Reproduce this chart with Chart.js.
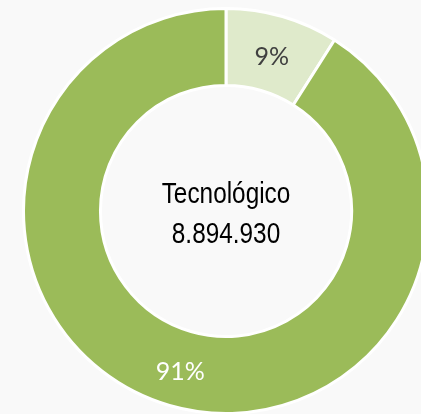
<!DOCTYPE html>
<html lang="es">
<head>
    <meta charset="UTF-8">
    <title>Tecnológico</title>
    <script src="https://cdn.jsdelivr.net/npm/chart.js"></script>
    <style>
        html, body { margin: 0; padding: 0; width: 421px; height: 414px; overflow: hidden; background: #f9f9f9; }
        #wrap { position: absolute; left: 22px; top: 7px; width: 408px; height: 408px; }
    </style>
</head>
<body>
    <div id="wrap">
        <canvas id="techChart"></canvas>
    </div>

    <script>
        // data
        const labels = ['Otro', 'Tecnológico'];
        const shares = [9, 91];
        const colors = ['#dfeacb', '#9bbb59'];
        const labelColors = ['#404040', '#ffffff'];
        const centerTitle = 'Tecnológico';
        const centerValue = '8.894.930';

        // percentage labels placed at each arc's middle
        const pctLabels = {
            id: 'pctLabels',
            afterDatasetsDraw(chart) {
                const ctx = chart.ctx;
                const meta = chart.getDatasetMeta(0);
                ctx.save();
                ctx.font = '25px Lato, "Open Sans", sans-serif';
                ctx.textAlign = 'center';
                ctx.textBaseline = 'middle';
                meta.data.forEach((arc, i) => {
                    const pos = arc.tooltipPosition();
                    ctx.fillStyle = labelColors[i];
                    ctx.fillText(shares[i] + '%', pos.x, pos.y + 3);
                });
                ctx.restore();
            }
        };

        // text in the hole, squeezed a bit to look like a narrow face
        const centerText = {
            id: 'centerText',
            afterDraw(chart) {
                const ctx = chart.ctx;
                const arc = chart.getDatasetMeta(0).data[0];
                ctx.save();
                ctx.translate(arc.x, arc.y);
                ctx.scale(0.84, 1);
                ctx.font = '29px "Liberation Sans Narrow", "Arial Narrow", "Liberation Sans", sans-serif';
                ctx.fillStyle = '#000000';
                ctx.textAlign = 'center';
                ctx.textBaseline = 'middle';
                ctx.fillText(centerTitle, 0, -16);
                ctx.fillText(centerValue, 0, 24);
                ctx.restore();
            }
        };

        new Chart(document.getElementById('techChart'), {
            type: 'doughnut',
            data: {
                labels: labels,
                datasets: [{
                    data: shares,
                    backgroundColor: colors,
                    borderColor: '#ffffff',
                    borderWidth: 3,
                    hoverOffset: 0
                }]
            },
            options: {
                responsive: true,
                maintainAspectRatio: false,
                animation: false,
                cutout: '62%',
                layout: { padding: 0 },
                plugins: {
                    legend: { display: false },
                    tooltip: { enabled: false }
                }
            },
            plugins: [pctLabels, centerText]
        });
    </script>
</body>
</html>
